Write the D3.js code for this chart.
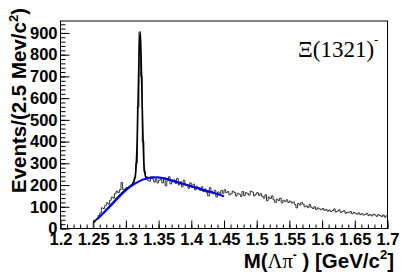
<!DOCTYPE html>
<html><head><meta charset="utf-8">
<script src="https://cdn.jsdelivr.net/npm/d3@7"></script>
<style>html,body{margin:0;padding:0;background:#fff;}svg{display:block;}</style>
</head><body>
<svg id="chart" width="407" height="276"></svg>
<script>
// ---- data ----
const binStart = 1.25;
const binWidth = 0.0025;
const counts = [
  28, 38, 45, 60, 72, 95, 92, 105, 118, 112, 130, 145, 140, 160, 172, 165, 178, 212, 180, 182,
  188, 186, 195, 200, 212, 235, 300, 560, 905, 700, 400, 262, 226, 222, 218, 232, 228, 214, 226, 210,
  222, 228, 210, 232, 196, 220, 238, 205, 215, 224, 208, 230, 200, 215, 192, 222, 205, 198, 185, 210,
  190, 204, 178, 195, 188, 175, 192, 170, 182, 165, 150, 188, 172, 160, 176, 145, 168, 158, 175, 162,
  178, 165, 170, 155, 160, 172, 166, 150, 162, 158, 148, 170, 152, 165, 160, 154, 172, 168, 150, 158,
  165, 152, 160, 148, 140, 155, 128, 145, 138, 150, 132, 120, 135, 128, 140, 118, 130, 124, 132, 120,
  126, 118, 122, 110, 95, 115, 108, 120, 112, 100, 104, 96, 110, 98, 92, 100, 88, 95, 90, 86,
  92, 84, 88, 80, 85, 78, 82, 90, 76, 80, 86, 74, 78, 82, 70, 75, 72, 78, 68, 74,
  70, 66, 72, 64, 68, 62, 65, 70, 60, 64, 58, 66, 62, 56, 64, 60, 55, 62, 52, 58
];
const fitX     = [1.25, 1.26, 1.27, 1.28, 1.29, 1.30, 1.305, 1.31, 1.3125, 1.315, 1.3175, 1.32, 1.3215, 1.3225, 1.325, 1.3275, 1.33, 1.335, 1.34, 1.35, 1.36, 1.37, 1.38, 1.39, 1.40, 1.41, 1.42, 1.43, 1.44, 1.45];
const fitTotal = [28, 55, 87, 119, 152, 180, 192, 205, 218, 260, 430, 790, 900, 860, 560, 300, 240, 233, 236, 235, 230, 221, 212, 203, 194, 185, 176, 167, 158, 148];
const bgX      = [1.256, 1.27, 1.28, 1.29, 1.30, 1.31, 1.32, 1.33, 1.34, 1.35, 1.36, 1.37, 1.38, 1.39, 1.40, 1.41, 1.42, 1.43, 1.44, 1.45];
const bgY      = [42, 84, 115, 147, 176, 199, 217, 229, 235, 235, 230, 221, 212, 203, 194, 185, 176, 167, 158, 148];
const xMajorTicks = [1.2, 1.25, 1.3, 1.35, 1.4, 1.45, 1.5, 1.55, 1.6, 1.65, 1.7];
const yMajorTicks = [0, 100, 200, 300, 400, 500, 600, 700, 800, 900];

// ---- layout ----
const L = 60.5, R = 387.5, T = 21, B = 228.5;
const svg = d3.select("#chart");
const x = d3.scaleLinear().domain([1.2, 1.7]).range([L, R]);
const y = d3.scaleLinear().domain([0, 955]).range([B, T]);

const tickFont = "'Liberation Sans', Arial, sans-serif";

// minor ticks
const xMinor = d3.range(0, 51).map(i => 1.2 + i * 0.01);
const yMinor = d3.range(0, 48).map(i => i * 20);

const gxMin = svg.append("g").attr("transform", `translate(0,${B})`)
  .call(d3.axisBottom(x).tickValues(xMinor).tickSize(-4).tickFormat(""));
const gx = svg.append("g").attr("transform", `translate(0,${B})`)
  .call(d3.axisBottom(x).tickValues(xMajorTicks).tickSize(-8).tickPadding(5).tickFormat(d3.format("~g")));
const gyMin = svg.append("g").attr("transform", `translate(${L},0)`)
  .call(d3.axisLeft(y).tickValues(yMinor.filter(v => v <= 955)).tickSize(-5).tickFormat(""));
const gy = svg.append("g").attr("transform", `translate(${L},0)`)
  .call(d3.axisLeft(y).tickValues(yMajorTicks).tickSize(-9).tickPadding(3).tickFormat(d3.format("d")));

[gxMin, gx, gyMin, gy].forEach(g => {
  g.select(".domain").remove();
  g.selectAll("line").attr("stroke", "#000").attr("stroke-width", 1);
  g.selectAll("text").attr("font-family", tickFont).attr("font-weight", "bold")
    .attr("font-size", "16.5px").attr("fill", "#000");
});
gx.selectAll("text").attr("dy", "0.72em");

// frame
svg.append("rect").attr("x", L).attr("y", T).attr("width", R - L).attr("height", B - T)
  .attr("fill", "none").attr("stroke", "#000").attr("stroke-width", 1);

// histogram
const histPts = [[binStart, 0]];
counts.forEach((c, i) => histPts.push([binStart + i * binWidth, c]));
histPts.push([binStart + counts.length * binWidth, counts[counts.length - 1]]);
const histLine = d3.line().x(d => x(d[0])).y(d => y(d[1])).curve(d3.curveStepAfter);
svg.append("path").attr("d", histLine(histPts))
  .attr("fill", "none").attr("stroke", "#333").attr("stroke-width", 1);

// fits
const fitLine = d3.line().x(d => x(d[0])).y(d => y(d[1])).curve(d3.curveMonotoneX);
svg.append("path").attr("d", fitLine(fitX.map((v, i) => [v, fitTotal[i]])))
  .attr("fill", "none").attr("stroke", "#000").attr("stroke-width", 1.6);
svg.append("path").attr("d", fitLine(bgX.map((v, i) => [v, bgY[i]])))
  .attr("fill", "none").attr("stroke", "#0000ff").attr("stroke-width", 2);

// y title
const yt = svg.append("text")
  .attr("transform", `translate(26,8) rotate(-90)`)
  .attr("text-anchor", "end")
  .attr("font-family", tickFont).attr("font-weight", "bold").attr("font-size", "20.5px");
yt.append("tspan").text("Events/(2.5 Mev/c");
yt.append("tspan").attr("font-size", "13px").attr("dy", "-8").text("2");
yt.append("tspan").attr("dy", "8").text(")");

// x title
const xt = svg.append("text")
  .attr("x", 394).attr("y", 268).attr("text-anchor", "end")
  .attr("font-family", tickFont).attr("font-weight", "bold").attr("font-size", "20.5px");
xt.append("tspan").text("M(");
xt.append("tspan").attr("font-family", "'Liberation Serif', 'Times New Roman', serif").attr("font-weight", "normal").text("Λπ");
xt.append("tspan").attr("font-size", "12px").attr("dy", "-9").text("-");
xt.append("tspan").attr("dy", "9").text(" ) [GeV/c");
xt.append("tspan").attr("font-size", "13px").attr("dy", "-9").text("2");
xt.append("tspan").attr("dy", "9").text("]");

// particle label
const lab = svg.append("text")
  .attr("x", 298).attr("y", 57)
  .attr("font-family", "'Liberation Serif', 'Times New Roman', serif").attr("font-size", "23px");
lab.append("tspan").text("Ξ(1321)");
lab.append("tspan").attr("font-size", "13px").attr("dy", "-13").text("-");
</script>
</body></html>
